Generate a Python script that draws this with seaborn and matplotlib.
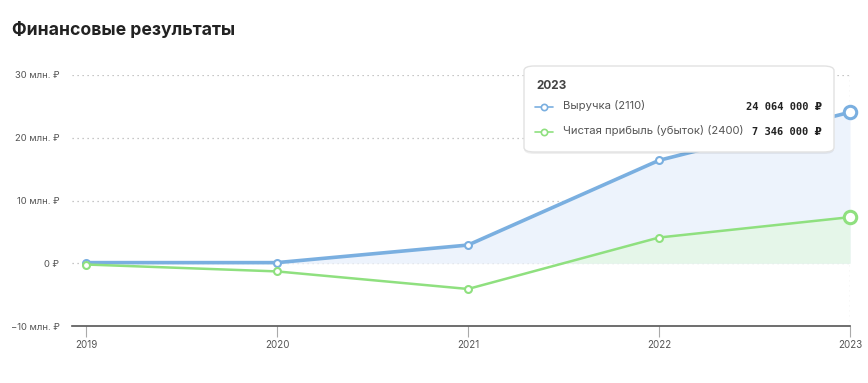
import numpy as np
import pandas as pd
import matplotlib.pyplot as plt
import seaborn as sns
from matplotlib.patches import FancyBboxPatch
from matplotlib.lines import Line2D

# values in millions of rubles
years = [2019, 2020, 2021, 2022, 2023]
revenue = [0.1, 0.1, 2.9, 16.4, 24.064]
profit = [-0.2, -1.3, -4.1, 4.1, 7.346]
series_names = ["Выручка (2110)", "Чистая прибыль (убыток) (2400)"]
series_values = ["24 064 000 ₽", "7 346 000 ₽"]
y_ticks = [-10, 0, 10, 20, 30]
y_labels = ["−10 млн. ₽", "0 ₽", "10 млн. ₽", "20 млн. ₽", "30 млн. ₽"]

blue = "#7aafe0"
green = "#8fe07f"

sns.set_theme(style="white")
plt.rcParams["font.family"] = ["Inter", "DejaVu Sans"]

df = pd.DataFrame({"year": years * 2,
                   "value": revenue + profit,
                   "series": [series_names[0]] * 5 + [series_names[1]] * 5})

W, H = 868, 383
fig = plt.figure(figsize=(W / 100, H / 100), dpi=100)
ax = fig.add_axes([72 / W, 1 - 326 / H, (850 - 72) / W, (326 - 75) / H])

# fills under the lines
yr = np.array(years, dtype=float)
ax.fill_between(yr, revenue, 0, where=np.array(revenue) >= 0, interpolate=True,
                color="#edf3fc", zorder=1, lw=0)
ax.fill_between(yr, profit, 0, where=np.array(profit) >= 0, interpolate=True,
                color="#e5f6e9", zorder=1.5, lw=0)

sns.lineplot(data=df, x="year", y="value", hue="series",
             palette=[blue, green], marker="o", markersize=5,
             legend=False, ax=ax, zorder=3)
for line, w, c in zip(ax.lines, [2.6, 1.8], [blue, green]):
    line.set_linewidth(w)
    line.set_markerfacecolor("white")
    line.set_markeredgecolor(c)
    line.set_markeredgewidth(1.5)
    line.set_clip_on(False)

# hovered last points
ax.scatter([years[-1]], [revenue[-1]], s=80, facecolor="white", edgecolor=blue,
           linewidth=2.2, zorder=5, clip_on=False)
ax.scatter([years[-1]], [profit[-1]], s=80, facecolor="white", edgecolor=green,
           linewidth=2.2, zorder=5, clip_on=False)

ax.set_xlim(years[0] - 14 / 191, years[-1])
ax.set_ylim(-10, 30)
ax.set_xticks(years)
ax.set_xticklabels([str(y) for y in years])
ax.set_yticks(y_ticks)
ax.set_yticklabels(y_labels)
ax.set_xlabel("")
ax.set_ylabel("")

for yv in [0, 10, 20, 30]:
    ax.axhline(yv, color="#b5b5b5", lw=0.9, ls=(0, (1, 3)), zorder=0.5)
ax.axvline(years[-1], color="#b5b5b5", lw=0.9, ls=(0, (1, 3)), zorder=0.5)

for s in ["top", "right", "left"]:
    ax.spines[s].set_visible(False)
ax.spines["bottom"].set_color("#555555")
ax.spines["bottom"].set_linewidth(1.2)

ax.tick_params(axis="x", length=8, width=0.8, color="#aaaaaa", labelsize=7,
               labelcolor="#555555", pad=2, bottom=True)
ax.tick_params(axis="y", length=0, labelsize=6.8, labelcolor="#555555", pad=9)

fig.text(12 / W, 1 - 30 / H, "Финансовые результаты", fontsize=12.7, fontweight="bold",
         color="#222222", va="center", ha="left")

# tooltip box
x0, y0, x1, y1 = 524, 66, 834, 152
shadow = FancyBboxPatch((x0 / W, 1 - (y1 + 2) / H), (x1 - x0) / W, (y1 - y0) / H,
                        boxstyle="round,pad=0,rounding_size=0.012",
                        transform=fig.transFigure, facecolor="#00000010",
                        edgecolor="none", zorder=9)
box = FancyBboxPatch((x0 / W, 1 - y1 / H), (x1 - x0) / W, (y1 - y0) / H,
                     boxstyle="round,pad=0,rounding_size=0.012",
                     transform=fig.transFigure, facecolor="white",
                     edgecolor="#e2e2e2", lw=1, zorder=10)
fig.patches.extend([shadow, box])

fig.text(536 / W, 1 - 86 / H, str(years[-1]), fontsize=8.5, fontweight="bold",
         color="#444444", va="center", zorder=11)
for i, (name, val, c) in enumerate(zip(series_names, series_values, [blue, green])):
    yy = 1 - (107 + 25 * i) / H
    fig.add_artist(Line2D([535 / W, 553 / W], [yy, yy], color=c, lw=1.2, zorder=11,
                          transform=fig.transFigure))
    fig.add_artist(Line2D([544 / W], [yy], marker="o", ms=4.5, mfc="white", mec=c,
                          mew=1.2, zorder=12, transform=fig.transFigure))
    fig.text(563 / W, yy + 1.5 / H, name, fontsize=8.1, color="#555555", va="center",
             zorder=11)
    fig.text(822 / W, yy, val, fontsize=7.5, fontweight="bold", color="#222222",
             va="center", ha="right", family=["DejaVu Sans Mono", "DejaVu Sans"],
             zorder=11)

fig.savefig("out.png", dpi=100)
